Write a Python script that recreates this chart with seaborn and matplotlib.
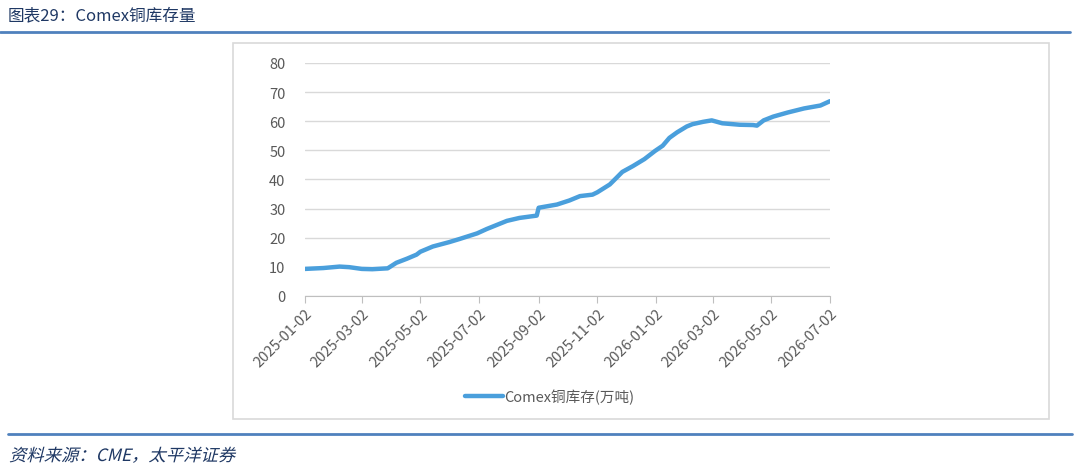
import pandas as pd
import matplotlib
matplotlib.use("Agg")
import matplotlib.pyplot as plt
import matplotlib.dates as mdates
from matplotlib.patches import Rectangle, PathPatch
from matplotlib.lines import Line2D
from matplotlib.textpath import TextPath
from matplotlib.font_manager import FontProperties
from matplotlib.transforms import Affine2D
import seaborn as sns

# Comex copper inventory, 10k tonnes
dates = [
    "2025-01-02", "2025-01-21", "2025-02-07", "2025-02-17", "2025-03-02",
    "2025-03-13", "2025-03-29", "2025-04-07", "2025-04-18", "2025-04-28",
    "2025-05-02", "2025-05-15", "2025-06-01", "2025-06-12", "2025-06-30",
    "2025-07-10", "2025-07-31", "2025-08-13", "2025-08-31", "2025-09-02",
    "2025-09-21", "2025-10-04", "2025-10-15", "2025-10-28", "2025-11-02",
    "2025-11-15", "2025-11-22", "2025-11-28", "2025-12-09", "2025-12-21",
    "2026-01-01", "2026-01-09", "2026-01-16", "2026-01-24", "2026-02-03",
    "2026-02-09", "2026-02-20", "2026-03-01", "2026-03-12", "2026-03-30",
    "2026-04-13", "2026-04-17", "2026-04-24", "2026-05-04", "2026-05-19",
    "2026-06-05", "2026-06-22", "2026-07-02",
]
stock = [
    9.3, 9.6, 10.1, 9.9, 9.3,
    9.2, 9.5, 11.4, 12.8, 14.2,
    15.2, 17.0, 18.5, 19.6, 21.5,
    23.0, 25.8, 26.8, 27.6, 30.3,
    31.4, 32.8, 34.3, 34.8, 35.6,
    38.3, 40.6, 42.6, 44.6, 47.0,
    49.8, 51.6, 54.3, 56.2, 58.2,
    59.0, 59.8, 60.3, 59.3, 58.8,
    58.7, 58.5, 60.3, 61.6, 63.0,
    64.4, 65.4, 66.9,
]
series_name = "Comex铜库存(万吨)"
title = "图表29：Comex铜库存量"
source = "资料来源：CME，太平洋证券"

df = pd.DataFrame({"date": pd.to_datetime(dates), "stock": stock})

sns.set_style("white")
plt.rcParams["font.family"] = ["Noto Sans CJK SC", "DejaVu Sans"]

W, H = 1080, 464
fig = plt.figure(figsize=(W / 100, H / 100), dpi=100)

# outer chart frame
fig.add_artist(Rectangle((233 / W, 1 - 420 / H), (1049 - 233) / W, (420 - 44) / H,
                         transform=fig.transFigure, fill=False, edgecolor="#D9D9D9", lw=1.2))

ax = fig.add_axes([305 / W, 1 - 297 / H, 525 / W, 233 / H])
sns.lineplot(data=df, x="date", y="stock", ax=ax, color="#4A9FDC", linewidth=3.2, legend=False)

ax.set_ylim(0, 80)
ax.set_yticks(range(0, 81, 10))
ax.set_xlim(pd.Timestamp("2025-01-02"), pd.Timestamp("2026-07-02"))
ax.xaxis.set_major_locator(mdates.MonthLocator(bymonth=[1, 3, 5, 7, 9, 11], bymonthday=2))
ax.xaxis.set_major_formatter(mdates.DateFormatter("%Y-%m-%d"))
ax.grid(axis="y", color="#D9D9D9", lw=1)
ax.set_xlabel("")
ax.set_ylabel("")
for s in ["top", "right", "left"]:
    ax.spines[s].set_visible(False)
ax.spines["bottom"].set_color("#BFBFBF")
ax.tick_params(axis="x", direction="out", length=5, color="#BFBFBF", colors="#595959",
               labelsize=10.5, pad=2, bottom=True)
ax.tick_params(axis="y", length=0, colors="#595959", labelsize=10.5, pad=14)
plt.setp(ax.get_xticklabels(), rotation=45, ha="right", rotation_mode="anchor")

# legend
handle = Line2D([], [], color="#4A9FDC", lw=3.2)
leg = fig.legend([handle], [series_name], loc="center", bbox_to_anchor=(550 / W, 1 - 397 / H),
                 frameon=False, fontsize=10.5, handlelength=2.6, handletextpad=0.1,
                 labelcolor="#595959")

# header
fig.text(8 / W, 1 - 16 / H, title, fontsize=12, color="#1F3864", va="center", ha="left")
fig.add_artist(Line2D([0, 1070 / W], [1 - 33 / H] * 2, transform=fig.transFigure,
                      color="#4F81BD", lw=2))

# footer, slanted like the reference (CJK font has no italic face)
fig.add_artist(Line2D([8 / W, 1072 / W], [1 - 435 / H] * 2, transform=fig.transFigure,
                      color="#4F81BD", lw=2))
tp = TextPath((0, 0), source, size=17, prop=FontProperties(family="Noto Sans CJK SC"))
tr = Affine2D().skew_deg(14, 0).scale(1.02, 1).translate(9, H - 462).scale(1 / W, 1 / H)
fig.add_artist(PathPatch(tp, transform=tr + fig.transFigure, facecolor="#1F3864",
                         edgecolor="none"))

fig.savefig("out.png", dpi=100)
